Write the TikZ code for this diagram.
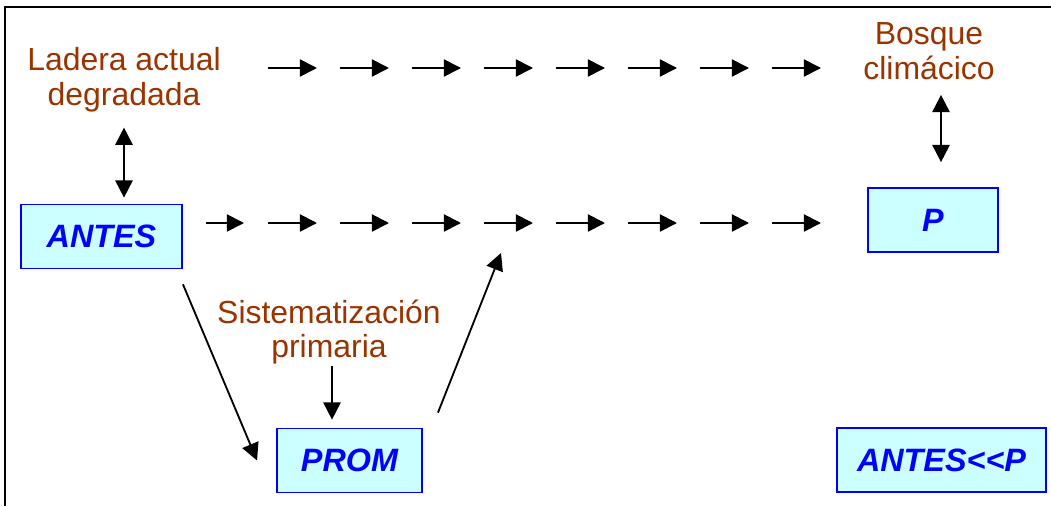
\documentclass[tikz,border=0pt]{standalone}
\usepackage{fontspec}
\setmainfont{Liberation Sans}
\usetikzlibrary{arrows.meta,calc}
\definecolor{rust}{HTML}{993300}
\definecolor{ice}{HTML}{CCFFFF}
\definecolor{boxblue}{HTML}{0000FF}

\begin{document}
\begin{tikzpicture}[x=0.025cm,y=-0.025cm,note/.style={text=rust,align=center,inner sep=0pt,font=\fontsize{22.7}{24.8}\selectfont},phase/.style={draw=boxblue,line width=1.2pt,fill=ice,text=boxblue,minimum height=1.6cm,font=\fontsize{23}{25}\selectfont\bfseries\itshape},link/.style={-{Triangle[length=4.3mm,width=4.3mm]},line width=1.3pt},both/.style={{Triangle[length=4.3mm,width=4.3mm]}-{Triangle[length=4.3mm,width=4.3mm]},line width=1.3pt}]
 \useasboundingbox (0,0) rectangle (1051,506);
 \draw[line width=1.4pt] (5,506) -- (5,7) -- (1051,7);
 % texts
 \node[note] (ladera) at (124,80) {Ladera actual\\degradada};
 \node[note] (bosque) at (929,51) {Bosque\\climácico};
 \node[note] (sistema) at (329,332) {Sistematización\\primaria};
 % boxes
 \node[phase,minimum width=4.03cm] (antes) at (101.5,236.5) {ANTES};
 \node[phase,minimum width=3.25cm] (p) at (933,220) {P};
 \node[phase,minimum width=3.63cm] (prom) at (349.5,460.5) {PROM};
 \node[phase,minimum width=5.23cm] (result) at (941.5,460) {ANTES<{}<P};
 \coordinate (join) at (501,253);
 % chains of arrows
 \foreach \x in {268,340,...,772} {
  \draw[link] (\x,68) -- ++(49,0);
  \draw[link] (\x,223) -- ++(49,0);
 }
 \draw[link] (206,223) -- (244,223);
 % links
 \draw[both] ($(ladera.south)+(0,15)$) -- ($(ladera.south |- antes.north)+(0,-6)$);
 \draw[both] ($(bosque.south)+(12,15)$) -- ($(bosque.south |- p.north)+(12,-25)$);
 \draw[link] ($(sistema.south)+(3,1)$) -- ($(sistema.south |- prom.north)+(3,-8)$);
 \draw[link] ($(antes.south east)+(0,15)$) -- ($(prom.west)+(-19,0)$);
 \draw[link] ($(prom.north east)+(15,-15)$) -- (join);
\end{tikzpicture}
\end{document}
